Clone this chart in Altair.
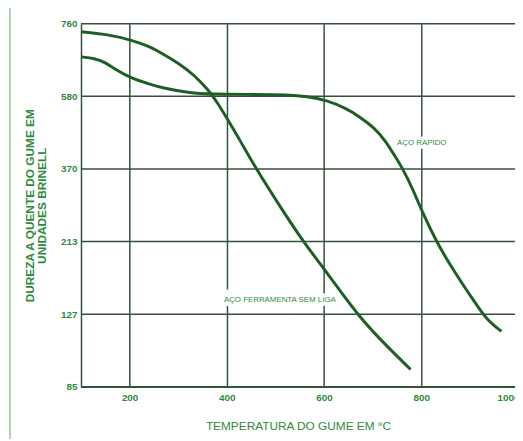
import altair as alt
import pandas as pd

# Aço rápido (high-speed steel)
temp_rapido = [100, 128, 149, 169, 205, 240, 266, 321, 368, 463, 524, 565, 605, 646, 672, 703, 727, 743, 762, 784,
               802, 834, 861, 891, 916, 939, 971]
dureza_rapido = [678, 674, 665, 648, 624, 611, 601, 589, 585, 585, 584, 580, 569, 545, 522, 490, 450, 413, 371, 323,
                 277, 211, 186, 160, 140, 124, 117]

# Aço ferramenta sem liga (plain carbon tool steel)
temp_ferr = [100, 159, 205, 240, 266, 301, 331, 362, 382, 402, 429, 459, 508, 558, 605, 670, 727, 778]
dureza_ferr = [740, 733, 719, 704, 687, 662, 635, 596, 559, 512, 448, 373, 291, 212, 177, 126, 109, 95]

y_ticks = [85, 127, 213, 370, 580, 760]
x_ticks = [200, 400, 600, 800, 1000]

label_text = ["AÇO RAPIDO", "AÇO FERRAMENTA SEM LIGA"]
label_temp = [801, 509]
label_dureza = [445, 144]

W = 440
H = 368

GREEN_TXT = "#2e8b3c"
CURVE = "#1d5e27"
GRID = "#34503a"

curves = pd.DataFrame({
    "temp": temp_rapido + temp_ferr,
    "dureza": dureza_rapido + dureza_ferr,
    "serie": ["rapido"] * len(temp_rapido) + ["ferr"] * len(temp_ferr),
})
labels = pd.DataFrame({"temp": label_temp, "dureza": label_dureza, "txt": label_text})
hgrid = pd.DataFrame({"dureza": y_ticks})

xs = alt.Scale(domain=[100, 800, 1000], range=[0, 345, W], nice=False, zero=False)
ys = alt.Scale(domain=y_ticks, range=[H - i * H / 5 for i in range(6)], nice=False, zero=False)

x_axis = alt.Axis(
    values=x_ticks, format="d", title="TEMPERATURA DO GUME EM °C", labelFlush=True, labelFlushOffset=4,
    gridColor={"condition": {"test": "datum.value >= 1000", "value": "transparent"}, "value": GRID},
    titleFontWeight="normal", titleFontSize=12, titlePadding=18, labelPadding=6,
)
y_axis = alt.Axis(
    values=y_ticks, format="d", grid=False, title=["DUREZA A QUENTE DO GUME EM", "UNIDADES BRINELL"],
    titleFontWeight="bold", titleFontSize=12, titleLineHeight=12, titlePadding=12, labelPadding=4,
)

grid_h = alt.Chart(hgrid).mark_rule(color=GRID, strokeWidth=1.5).encode(
    y=alt.Y("dureza:Q", scale=ys), x=alt.value(0), x2=alt.value(W)
)

lines = alt.Chart(curves).mark_line(strokeWidth=3, interpolate="basis", color=CURVE).encode(
    x=alt.X("temp:Q", scale=xs, axis=x_axis),
    y=alt.Y("dureza:Q", scale=ys, axis=y_axis),
    detail="serie:N",
)

halo = alt.Chart(labels).mark_text(fontSize=8, font="Liberation Sans", stroke="white", strokeWidth=7, color="white").encode(
    x=alt.X("temp:Q", scale=xs), y=alt.Y("dureza:Q", scale=ys), text="txt:N"
)
texts = alt.Chart(labels).mark_text(fontSize=8, font="Liberation Sans", color=GREEN_TXT).encode(
    x=alt.X("temp:Q", scale=xs), y=alt.Y("dureza:Q", scale=ys), text="txt:N"
)

border = alt.Chart(labels).mark_rule(color="#8cc98c", strokeWidth=1).encode(
    x=alt.value(-72), y=alt.value(-21), y2=alt.value(430)
)

chart = alt.layer(border, grid_h, halo, lines, texts).properties(
    width=W, height=H,
    autosize=alt.AutoSizeParams(type="none"),
    padding={"left": 74, "top": 13, "right": 0, "bottom": 50},
    background="white",
).configure_view(strokeWidth=0).configure_axis(
    gridWidth=1.5, domainColor=GRID, domainWidth=1.5, ticks=False,
    labelColor=GREEN_TXT, labelFont="Liberation Sans", labelFontWeight="bold", labelFontSize=10,
    titleColor=GREEN_TXT, titleFont="Liberation Sans",
)

chart.save("out.html", embed_options={"renderer": "svg", "actions": False})
